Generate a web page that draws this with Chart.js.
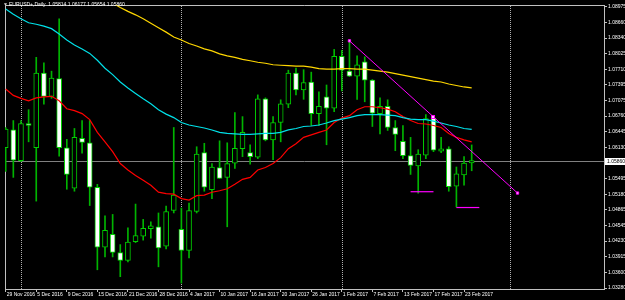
<!DOCTYPE html>
<html>
<head>
<meta charset="utf-8">
<script src="https://cdn.jsdelivr.net/npm/chart.js@4.4.1/dist/chart.umd.min.js"></script>
<style>
  html, body { margin: 0; padding: 0; background: #000; }
  canvas { display: block; }
</style>
</head>
<body>
<canvas id="grafico" width="625" height="300"></canvas>
<script>
// Dados do gráfico EURUSD+ diário
const simbolo = "EURUSD+";
const datas = [
    "29 Nov 2016", "30 Nov 2016", "1 Dec 2016", "2 Dec 2016", "5 Dec 2016", "6 Dec 2016", "7 Dec 2016", "8 Dec 2016",
    "9 Dec 2016", "12 Dec 2016", "13 Dec 2016", "14 Dec 2016", "15 Dec 2016", "16 Dec 2016", "19 Dec 2016", "20 Dec 2016",
    "21 Dec 2016", "22 Dec 2016", "23 Dec 2016", "27 Dec 2016", "28 Dec 2016", "29 Dec 2016", "30 Dec 2016", "3 Jan 2017",
    "4 Jan 2017", "5 Jan 2017", "6 Jan 2017", "9 Jan 2017", "10 Jan 2017", "11 Jan 2017", "12 Jan 2017", "13 Jan 2017",
    "16 Jan 2017", "17 Jan 2017", "18 Jan 2017", "19 Jan 2017", "20 Jan 2017", "23 Jan 2017", "24 Jan 2017", "25 Jan 2017",
    "26 Jan 2017", "27 Jan 2017", "30 Jan 2017", "31 Jan 2017", "1 Feb 2017", "2 Feb 2017", "3 Feb 2017", "6 Feb 2017",
    "7 Feb 2017", "8 Feb 2017", "9 Feb 2017", "10 Feb 2017", "13 Feb 2017", "14 Feb 2017", "15 Feb 2017", "16 Feb 2017",
    "17 Feb 2017", "20 Feb 2017", "21 Feb 2017", "22 Feb 2017", "23 Feb 2017", "24 Feb 2017"
];

const abertura = [
    1.0612, 1.0648, 1.0586, 1.0659, 1.0612, 1.0763, 1.0716, 1.0752, 1.0612, 1.0530,
    1.0631, 1.0622, 1.0532, 1.0411, 1.0437, 1.0400, 1.0384, 1.0422, 1.0433, 1.0448,
    1.0452, 1.0413, 1.0485, 1.0447, 1.0404, 1.0483, 1.0602, 1.0527, 1.0572, 1.0552,
    1.0581, 1.0610, 1.0602, 1.0593, 1.0711, 1.0628, 1.0663, 1.0700, 1.0763, 1.0729,
    1.0745, 1.0681, 1.0715, 1.0692, 1.0797, 1.0767, 1.0757, 1.0786, 1.0749, 1.0681,
    1.0696, 1.0653, 1.0625, 1.0596, 1.0575, 1.0597, 1.0672, 1.0605, 1.0610, 1.0534,
    1.0557, 1.05814
];
const maxima = [
    1.0653, 1.0667, 1.0667, 1.0689, 1.0795, 1.0784, 1.0767, 1.0873, 1.0629, 1.0651,
    1.0667, 1.0667, 1.0538, 1.0474, 1.0477, 1.0416, 1.0450, 1.0498, 1.0467, 1.0462,
    1.0480, 1.0494, 1.0653, 1.0490, 1.0500, 1.0614, 1.0621, 1.0580, 1.0626, 1.0622,
    1.0683, 1.0675, 1.0618, 1.0719, 1.0713, 1.0675, 1.0709, 1.0769, 1.0773, 1.0770,
    1.0765, 1.0725, 1.0739, 1.0811, 1.0809, 1.0828, 1.0798, 1.0796, 1.0750, 1.0713,
    1.0709, 1.0667, 1.0657, 1.0633, 1.0608, 1.0679, 1.0677, 1.0633, 1.0614, 1.0573,
    1.0594, 1.06177
];
const minima = [
    1.0564, 1.0552, 1.0584, 1.0624, 1.0504, 1.0700, 1.0712, 1.0595, 1.0528, 1.0524,
    1.0601, 1.0495, 1.0365, 1.0391, 1.0391, 1.0351, 1.0381, 1.0420, 1.0425, 1.0429,
    1.0371, 1.0407, 1.0480, 1.0338, 1.0389, 1.0480, 1.0524, 1.0509, 1.0550, 1.0452,
    1.0570, 1.0594, 1.0579, 1.0590, 1.0626, 1.0588, 1.0624, 1.0693, 1.0719, 1.0710,
    1.0657, 1.0657, 1.0618, 1.0685, 1.0727, 1.0756, 1.0710, 1.0705, 1.0655, 1.0640,
    1.0647, 1.0606, 1.0590, 1.0558, 1.0520, 1.0590, 1.0604, 1.0602, 1.0524, 1.0492,
    1.0536, 1.05654
];
const fechamento = [
    1.0650, 1.0587, 1.0661, 1.0657, 1.0763, 1.0716, 1.0753, 1.0612, 1.0558, 1.0633,
    1.0623, 1.0532, 1.0411, 1.0445, 1.0400, 1.0384, 1.0421, 1.0434, 1.0449, 1.0454,
    1.0409, 1.0483, 1.0516, 1.0404, 1.0485, 1.0599, 1.0532, 1.0573, 1.0550, 1.0580,
    1.0611, 1.0643, 1.0594, 1.0711, 1.0628, 1.0663, 1.0701, 1.0763, 1.0729, 1.0744,
    1.0681, 1.0696, 1.0692, 1.0797, 1.0769, 1.0757, 1.0780, 1.0749, 1.0682, 1.0696,
    1.0653, 1.0639, 1.0596, 1.0576, 1.0599, 1.0671, 1.0607, 1.0610, 1.0533, 1.0559,
    1.0581, 1.05860
];

// Médias móveis
const mediaVermelha = [
    1.0731, 1.0718, 1.0712, 1.0707, 1.0713, 1.0715, 1.0716, 1.0707, 1.0691, 1.0687,
    1.0681, 1.0669, 1.0643, 1.0624, 1.0604, 1.0580, 1.0567, 1.0556, 1.0546, 1.0536,
    1.0522, 1.0519, 1.0518, 1.0509, 1.0506, 1.0515, 1.0516, 1.0522, 1.0525, 1.0529,
    1.0538, 1.0548, 1.0552, 1.0567, 1.0572, 1.0580, 1.0592, 1.0610, 1.0620, 1.0633,
    1.0638, 1.0643, 1.0648, 1.0663, 1.0672, 1.0677, 1.0689, 1.0695, 1.0695, 1.0693,
    1.0690, 1.0685, 1.0675, 1.0667, 1.0661, 1.0660, 1.0657, 1.0653, 1.0641, 1.0633,
    1.0628, 1.0624
];
const mediaAqua = [
    1.0893, 1.0882, 1.0873, 1.0865, 1.0862, 1.0858, 1.0853, 1.0842, 1.0830, 1.0820,
    1.0812, 1.0803, 1.0789, 1.0773, 1.0760, 1.0745, 1.0733, 1.0722, 1.0711, 1.0701,
    1.0689, 1.0680, 1.0673, 1.0663, 1.0658, 1.0655, 1.0652, 1.0648, 1.0643, 1.0641,
    1.0640, 1.0639, 1.0639, 1.0640, 1.0641, 1.0641, 1.0643, 1.0648, 1.0651, 1.0655,
    1.0656, 1.0658, 1.0662, 1.0667, 1.0670, 1.0673, 1.0677, 1.0679, 1.0679, 1.0679,
    1.0678, 1.0677, 1.0673, 1.0670, 1.0669, 1.0669, 1.0666, 1.0662, 1.0658, 1.0655,
    1.0651, 1.0649
];
const mediaAmarela = [
    null, null, null, null, null, null, null, null, null, null,
    null, null, null, null, 1.0905, 1.0896, 1.0888, 1.0881, 1.0873, 1.0864,
    1.0855, 1.0846, 1.0836, 1.0830, 1.0823, 1.0818, 1.0812, 1.0808, 1.0802, 1.0798,
    1.0795, 1.0791, 1.0788, 1.0785, 1.0783, 1.0780, 1.0779, 1.0778, 1.0777, 1.0777,
    1.0775, 1.0772, 1.0771, 1.0771, 1.0772, 1.0772, 1.0771, 1.0771, 1.0769, 1.0767,
    1.0765, 1.0762, 1.0759, 1.0756, 1.0753, 1.0750, 1.0747, 1.0745, 1.0741, 1.0738,
    1.0735, 1.0733
];

// Objetos desenhados (posição em barras, preço)
const tendencia = [[45, 1.08284], [67, 1.05203]];
const suporte1 = [[53, 1.0523], [56, 1.0523]];
const suporte2 = [[59, 1.0491], [62, 1.0491]];
const separadores = [2, 23, 44, 66];

// Rótulos dos eixos
const rotulosTempo = [
    "29 Nov 2016", "5 Dec 2016", "9 Dec 2016", "15 Dec 2016", "21 Dec 2016", "28 Dec 2016", "4 Jan 2017", "10 Jan 2017",
    "16 Jan 2017", "20 Jan 2017", "26 Jan 2017", "1 Feb 2017", "7 Feb 2017", "13 Feb 2017", "17 Feb 2017", "23 Feb 2017"
];
const rotulosPreco = [
    1.08975, 1.08660, 1.08340, 1.08025, 1.07710, 1.07395, 1.07075, 1.06760, 1.06445, 1.06130,
    1.05495, 1.05180, 1.04865, 1.04545, 1.04230, 1.03915, 1.03600, 1.03280
];

const fonte = { family: "'Liberation Sans', Arial, sans-serif", size: 5 };
const corTexto = "#ffffff";
const corEixo = "#c0c0c0";
const ultimo = datas.length - 1;

const pontos = (serie) => serie.map((v, i) => ({ x: i, y: v }));
const pares = (lista) => lista.map(([x, y]) => ({ x, y }));

// Remove o espaço extra que o Chart.js reserva para os rótulos nas pontas
const semPadding = (s) => {
    s.paddingLeft = 0;
    s.paddingRight = 0;
    s.paddingTop = 0;
    s.paddingBottom = 0;
};

// Plugin com moldura, separadores, linha de preço e cabeçalho
const extras = {
    id: "extras",
    beforeDatasetsDraw(chart) {
        const { ctx, chartArea: a, scales } = chart;
        ctx.save();
        ctx.strokeStyle = corEixo;
        ctx.lineWidth = 1;
        ctx.beginPath();
        ctx.moveTo(a.left + 0.5, a.bottom);
        ctx.lineTo(a.left + 0.5, a.top + 0.5);
        ctx.lineTo(a.right, a.top + 0.5);
        ctx.stroke();

        ctx.setLineDash([1, 1]);
        ctx.strokeStyle = "#b0b0b0";
        separadores.forEach((s) => {
            const x = Math.round(scales.x.getPixelForValue(s)) + 0.5;
            ctx.beginPath();
            ctx.moveTo(x, a.top + 1);
            ctx.lineTo(x, a.bottom);
            ctx.stroke();
        });
        ctx.setLineDash([]);

        const y = Math.round(scales.y.getPixelForValue(fechamento[ultimo])) + 0.5;
        ctx.strokeStyle = "#808080";
        ctx.beginPath();
        ctx.moveTo(a.left, y);
        ctx.lineTo(a.right, y);
        ctx.stroke();
        ctx.restore();
    },
    afterDraw(chart) {
        const { ctx, chartArea: a, scales } = chart;
        ctx.save();
        // alça do meio da linha de tendência
        const p1 = { x: scales.x.getPixelForValue(tendencia[0][0]), y: scales.y.getPixelForValue(tendencia[0][1]) };
        const p2 = { x: scales.x.getPixelForValue(tendencia[1][0]), y: scales.y.getPixelForValue(tendencia[1][1]) };
        const mx = Math.round((p1.x + p2.x) / 2), my = Math.round((p1.y + p2.y) / 2);
        ctx.fillStyle = "#ffc8ff";
        ctx.strokeStyle = "#ff00ff";
        ctx.fillRect(mx - 1, my - 1, 3, 3);
        ctx.strokeRect(mx - 1.5, my - 1.5, 3, 3);

        // etiqueta do preço atual
        const y = Math.round(scales.y.getPixelForValue(fechamento[ultimo]));
        ctx.fillStyle = "#ffffff";
        ctx.fillRect(a.right + 1, y - 3, 21, 7);
        ctx.fillStyle = "#000000";
        ctx.font = `${fonte.size}px ${fonte.family}`;
        ctx.textBaseline = "middle";
        ctx.textAlign = "left";
        ctx.fillText(fechamento[ultimo].toFixed(5), a.right + 3, y + 0.5);

        // cabeçalho
        ctx.fillStyle = "#d0d0d0";
        ctx.fillText("▼", 3, 5);
        ctx.fillStyle = corTexto;
        const texto = `${simbolo},Daily  ${abertura[ultimo].toFixed(5)} ${maxima[ultimo].toFixed(5)} ${minima[ultimo].toFixed(5)} ${fechamento[ultimo].toFixed(5)}`;
        ctx.fillText(texto, 9, 5);
        ctx.restore();
    }
};

new Chart(document.getElementById("grafico"), {
    type: "bar",
    data: {
        datasets: [
            {
                type: "line", data: pares(tendencia), borderColor: "#ff00ff", borderWidth: 1,
                pointStyle: "rect", pointRadius: 1.6, pointBackgroundColor: "#ffc8ff", pointBorderColor: "#ff00ff",
                pointBorderWidth: 1, tension: 0, order: -2
            },
            { type: "line", data: pares(suporte1), borderColor: "#ff00ff", borderWidth: 1.2, pointRadius: 0, order: -1 },
            { type: "line", data: pares(suporte2), borderColor: "#ff00ff", borderWidth: 1.2, pointRadius: 0, order: -1 },
            { type: "line", data: pontos(mediaAmarela), borderColor: "#ffd700", borderWidth: 1.2, pointRadius: 0, tension: 0, order: 0 },
            { type: "line", data: pontos(mediaAqua), borderColor: "#00e0e8", borderWidth: 1.2, pointRadius: 0, tension: 0, order: 0 },
            { type: "line", data: pontos(mediaVermelha), borderColor: "#ff0000", borderWidth: 1.2, pointRadius: 0, tension: 0, order: 0 },
            {
                // corpos das velas
                data: datas.map((d, i) => ({ x: i, y: [abertura[i], fechamento[i]] })),
                backgroundColor: (c) => fechamento[c.dataIndex] > abertura[c.dataIndex] ? "#000000" : "#ffffff",
                borderColor: "#00d000",
                borderWidth: 1,
                borderSkipped: false,
                barThickness: 5,
                minBarLength: 2,
                grouped: false,
                order: 1
            },
            {
                // pavios
                data: datas.map((d, i) => ({ x: i, y: [minima[i], maxima[i]] })),
                backgroundColor: "#00b400",
                barThickness: 1,
                grouped: false,
                order: 2
            }
        ]
    },
    options: {
        responsive: false,
        animation: false,
        devicePixelRatio: 1,
        layout: { padding: { left: 1, top: 1, right: 0, bottom: 0 } },
        plugins: { legend: { display: false }, tooltip: { enabled: false } },
        scales: {
            x: {
                type: "linear",
                min: -0.09,
                max: 78.32,
                bounds: "data",
                offset: false,
                grid: { offset: false, drawOnChartArea: false, drawTicks: true, tickLength: 3, color: corEixo },
                border: { display: true, color: corEixo },
                ticks: {
                    color: corTexto, font: fonte, maxRotation: 0, minRotation: 0, autoSkip: false,
                    align: "start", padding: 0, labelOffset: 1,
                    callback: (v) => datas[v] ?? ""
                },
                afterBuildTicks: (s) => { s.ticks = rotulosTempo.map((r) => ({ value: datas.indexOf(r) })); },
                afterFit: (s) => { s.height = 11; semPadding(s); }
            },
            y: {
                type: "linear",
                position: "right",
                min: 1.03261,
                max: 1.09009,
                bounds: "data",
                grid: { drawOnChartArea: false, drawTicks: true, tickLength: 3, color: corEixo },
                border: { display: true, color: corEixo },
                ticks: { color: corTexto, font: fonte, padding: 1, autoSkip: false, callback: (v) => v.toFixed(5) },
                afterBuildTicks: (s) => { s.ticks = rotulosPreco.map((v) => ({ value: v })); },
                afterFit: (s) => { s.width = 21; semPadding(s); }
            }
        }
    },
    plugins: [extras]
});
</script>
</body>
</html>
